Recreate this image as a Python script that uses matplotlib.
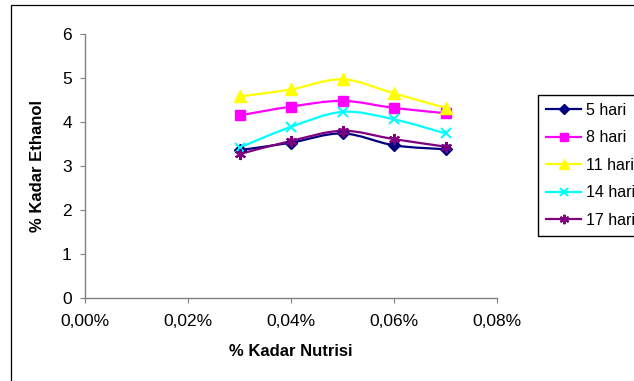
import numpy as np
import matplotlib
matplotlib.use("Agg")
import matplotlib.pyplot as plt
from matplotlib.lines import Line2D
from matplotlib.path import Path
from matplotlib.patches import PathPatch, Rectangle

plt.rcParams["font.family"] = ["Liberation Sans", "DejaVu Sans"]

# data -----------------------------------------------------------------

kadar_nutrisi = [0.03, 0.04, 0.05, 0.06, 0.07]   # dalam persen

hari_5 = [3.36, 3.53, 3.74, 3.47, 3.38]
hari_8 = [4.15, 4.35, 4.48, 4.32, 4.20]
hari_11 = [4.58, 4.74, 4.97, 4.65, 4.32]
hari_14 = [3.42, 3.89, 4.23, 4.06, 3.74]
hari_17 = [3.27, 3.57, 3.80, 3.61, 3.44]

labels = ["5 hari", "8 hari", "11 hari", "14 hari", "17 hari"]
series = [hari_5, hari_8, hari_11, hari_14, hari_17]

x_ticks = [0.00, 0.02, 0.04, 0.06, 0.08]
y_ticks = [0, 1, 2, 3, 4, 5, 6]

# gaya tiap seri --------------------------------------------------------

styles = [
    dict(color="#000080", marker="D", ms=6),
    dict(color="#FF00FF", marker="s", ms=6.5),
    dict(color="#FFFF00", marker="^", ms=8),
    dict(color="#00FFFF", marker="x", ms=7, mew=1.5),
    dict(color="#800080", marker=(6, 2, 0), ms=8, mew=1.5),
]


def smooth_path(xs, ys, k=1.0 / 6.0):
    # kurva bezier halus lewat semua titik (gaya garis "smoothed")
    pts = np.column_stack([xs, ys]).astype(float)
    n = len(pts)
    verts = [pts[0]]
    codes = [Path.MOVETO]
    for i in range(n - 1):
        p0 = pts[i - 1] if i > 0 else pts[i]
        p1 = pts[i]
        p2 = pts[i + 1]
        p3 = pts[i + 2] if i + 2 < n else pts[i + 1]
        c1 = p1 + (p2 - p0) * k
        c2 = p2 - (p3 - p1) * k
        verts += [c1, c2, p2]
        codes += [Path.CURVE4] * 3
    return Path(verts, codes)


W, H = 634, 381
fig = plt.figure(figsize=(W / 100, H / 100), dpi=100)
ax = fig.add_axes([85 / W, 1 - 298 / H, (497 - 85) / W, (298 - 34) / H])

for vals, st in zip(series, styles):
    patch = PathPatch(smooth_path(kadar_nutrisi, vals), fill=False,
                      edgecolor=st["color"], lw=1.6)
    ax.add_patch(patch)
    ax.plot(kadar_nutrisi, vals, ls="none", marker=st["marker"],
            ms=st["ms"], mew=st.get("mew", 1.0),
            color=st["color"], mfc=st["color"], mec=st["color"])

ax.set_xlim(0, 0.08)
ax.set_ylim(0, 6)
ax.set_xticks(x_ticks)
ax.set_xticklabels([f"{v:.2f}%".replace(".", ",") for v in x_ticks])
ax.set_yticks(y_ticks)

for side in ("top", "right"):
    ax.spines[side].set_visible(False)
for side in ("left", "bottom"):
    ax.spines[side].set_color("#808080")
    ax.spines[side].set_linewidth(1.0)

ax.tick_params(axis="both", direction="out", length=3.5, width=0.8,
               color="#808080", labelsize=12.5)
ax.tick_params(axis="x", pad=8)
ax.tick_params(axis="y", pad=6)

ax.set_xlabel("% Kadar Nutrisi", fontsize=12, fontweight="bold", labelpad=11)
ax.set_ylabel("% Kadar Ethanol", fontsize=12, fontweight="bold", labelpad=12)

handles = [Line2D([0], [0], color=st["color"], lw=1.6, marker=st["marker"],
                  ms=st["ms"] * 0.85, mew=st.get("mew", 1.0),
                  mfc=st["color"], mec=st["color"])
           for st in styles]
leg = fig.legend(handles, labels, loc="upper left",
                 bbox_to_anchor=(538 / W, 1 - 95 / H), borderaxespad=0,
                 fontsize=11.5, frameon=True, fancybox=False, edgecolor="black",
                 framealpha=1, handlelength=2.2, handletextpad=0.3,
                 labelspacing=0.78, borderpad=0.5)
leg.get_frame().set_linewidth(1.0)

# bingkai area grafik
fig.patches.append(Rectangle((11 / W, -0.1), 2, 1 - 5 / H + 0.1,
                             transform=fig.transFigure, fill=False,
                             edgecolor="black", lw=0.9))

fig.savefig("out.png", dpi=100)
